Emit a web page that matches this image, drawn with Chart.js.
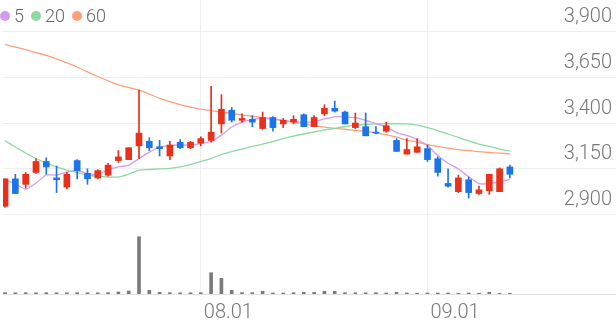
<!DOCTYPE html>
<html>
<head>
<meta charset="utf-8">
<script src="https://cdn.jsdelivr.net/npm/chart.js@4.4.0/dist/chart.umd.min.js"></script>
<style>
  html, body { margin: 0; padding: 0; background: #fff; }
  #wrap { position: relative; width: 616px; height: 321px; }
  #legend {
    position: absolute; left: 0; top: 5px;
    display: flex; align-items: center;
    font: 300 18px Roboto, sans-serif; color: #666;
  }
  #legend .item { display: flex; align-items: center; margin-right: 7px; }
  #legend .dot { width: 10px; height: 10px; border-radius: 50%; margin-right: 4px; }
</style>
</head>
<body>
<div id="wrap">
  <canvas id="chart" width="616" height="321"></canvas>
  <div id="legend"></div>
</div>
<script>
// trading days shown on the chart
const dates = [
  '07.05','07.06','07.07','07.10','07.11','07.12','07.13','07.14','07.17','07.18',
  '07.19','07.20','07.21','07.24','07.25','07.26','07.27','07.28','07.31','08.01',
  '08.02','08.03','08.04','08.07','08.08','08.09','08.10','08.11','08.14','08.16',
  '08.17','08.18','08.21','08.22','08.23','08.24','08.25','08.28','08.29','08.30',
  '08.31','09.01','09.04','09.05','09.06','09.07','09.08','09.11','09.12','09.13'
];

const open = [
  2945,3095,3065,3130,3190,3100,3050,3195,3125,3100,
  3115,3195,3200,3275,3300,3270,3220,3295,3265,3290,
  3305,3395,3470,3415,3420,3370,3430,3395,3405,3445,
  3380,3450,3480,3460,3375,3380,3350,3355,3305,3230,
  3240,3260,3205,3070,3025,3090,3015,3030,3025,3160
];
const high = [
  3095,3120,3130,3205,3210,3165,3130,3200,3150,3145,
  3180,3250,3265,3580,3320,3305,3300,3310,3300,3325,
  3600,3555,3485,3450,3440,3460,3435,3425,3440,3450,
  3440,3500,3520,3465,3455,3455,3380,3405,3315,3315,
  3315,3280,3215,3150,3115,3105,3055,3120,3155,3170
];
const low = [
  2940,3015,3045,3125,3120,3020,3040,3095,3065,3095,
  3110,3185,3200,3205,3250,3220,3200,3260,3260,3275,
  3295,3345,3405,3405,3380,3365,3355,3375,3395,3380,
  3380,3440,3460,3395,3370,3330,3340,3350,3245,3230,
  3240,3190,3110,3050,3020,2990,3010,3010,3025,3100
];
const close = [
  3095,3015,3120,3190,3160,3090,3120,3140,3095,3140,
  3170,3215,3265,3345,3265,3260,3280,3265,3295,3315,
  3350,3475,3415,3425,3405,3430,3375,3415,3420,3380,
  3430,3480,3465,3395,3400,3330,3345,3385,3245,3255,
  3270,3200,3130,3055,3100,3020,3035,3120,3150,3120
];
const volume = [
  70000,60000,65000,60000,65000,60000,60000,65000,60000,60000,
  65000,100000,150000,2865000,185000,85000,65000,60000,60000,65000,
  1065000,785000,185000,70000,65000,140000,50000,50000,65000,85000,
  80000,135000,135000,65000,65000,60000,65000,50000,85000,50000,
  40000,50000,50000,50000,40000,50000,40000,85000,35000,35000
];

// moving averages as drawn on the chart
const ma5 = [
  3089,3067,3039,3072,3116,3116,3132,3140,3124,3121,
  3143,3160,3170,3206,3241,3269,3277,3280,3280,3288,
  3299,3334,3378,3405,3419,3425,3422,3414,3408,3405,
  3408,3422,3434,3434,3429,3414,3397,3378,3348,3332,
  3310,3277,3222,3180,3149,3107,3069,3069,3080,3091
];
const ma20 = [
  3303,3269,3236,3206,3181,3160,3143,3130,3116,3108,
  3105,3105,3121,3143,3146,3149,3152,3160,3173,3190,
  3206,3228,3244,3258,3272,3285,3299,3315,3329,3340,
  3351,3362,3371,3381,3387,3392,3395,3396,3396,3395,
  3389,3375,3359,3340,3321,3302,3285,3272,3258,3247
];
const ma60 = [
  3829,3815,3801,3785,3769,3750,3728,3706,3679,3654,
  3630,3608,3594,3580,3558,3535,3517,3501,3487,3476,
  3468,3460,3452,3444,3437,3430,3422,3414,3405,3396,
  3386,3378,3371,3366,3360,3354,3346,3337,3323,3307,
  3296,3282,3272,3263,3255,3250,3244,3239,3235,3232
];

const maNames = ['5', '20', '60'];
const priceTicks = [2900, 3150, 3400, 3650, 3900];
const dateTicks = ['08.01', '09.01'];

const UP = '#e8301a';
const DOWN = '#1b74e8';
const maColors = ['#d59bf0', '#8fd9a2', '#ffa07c'];
const candleColors = close.map((c, i) => (c >= open[i] ? UP : DOWN));

const xy = (arr) => arr.map((v, i) => ({ x: i, y: v }));
const labelFont = { family: 'Roboto', size: 20, weight: 300 };

// html legend for the moving averages
const legend = document.getElementById('legend');
maNames.forEach((name, k) => {
  const item = document.createElement('div');
  item.className = 'item';
  item.innerHTML = '<span class="dot" style="background:' + maColors[k] + '"></span><span>' + name + '</span>';
  legend.appendChild(item);
});

const maLine = (data, k) => ({
  type: 'line',
  data: xy(data),
  borderColor: maColors[k],
  borderWidth: 1.3,
  pointRadius: 0,
  tension: 0.2,
  yAxisID: 'y',
  order: 2
});

new Chart(document.getElementById('chart'), {
  data: {
    datasets: [
      {
        type: 'bar',
        data: dates.map((d, i) => ({ x: i, y: [open[i], close[i]] })),
        backgroundColor: candleColors,
        barThickness: 6,
        minBarLength: 1,
        grouped: false,
        yAxisID: 'y',
        order: 0
      },
      {
        type: 'bar',
        data: dates.map((d, i) => ({ x: i, y: [low[i], high[i]] })),
        backgroundColor: candleColors,
        barThickness: 1,
        grouped: false,
        yAxisID: 'y',
        order: 1
      },
      maLine(ma5, 0),
      maLine(ma20, 1),
      maLine(ma60, 2),
      {
        type: 'bar',
        data: xy(volume),
        backgroundColor: '#7b7b7b',
        barThickness: 3,
        grouped: false,
        yAxisID: 'vol',
        order: 3
      }
    ]
  },
  options: {
    responsive: false,
    animation: false,
    layout: { padding: { left: 3, right: 0, top: 0, bottom: 0 } },
    plugins: { legend: { display: false }, tooltip: { enabled: false } },
    scales: {
      x: {
        type: 'linear',
        offset: false,
        min: -0.2,
        max: 59.3,
        afterBuildTicks: (axis) => {
          axis.ticks = dateTicks.map((d) => ({ value: dates.indexOf(d) }));
        },
        afterFit: (axis) => {
          axis.height = 27;
        },
        ticks: {
          callback: (v) => dates[v],
          align: 'start',
          padding: 7,
          labelOffset: 3,
          color: '#777',
          font: labelFont,
          maxRotation: 0
        },
        grid: { color: '#efefef', drawTicks: false, offset: false },
        border: { display: true, color: '#e3e3e3' }
      },
      y: {
        type: 'linear',
        position: 'right',
        min: 2466,
        max: 4072,
        afterBuildTicks: (axis) => {
          axis.ticks = priceTicks.map((v) => ({ value: v }));
        },
        afterFit: (axis) => {
          // labels sit inside the plot, no extra room needed above or below
          axis.paddingTop = 0;
          axis.paddingBottom = 0;
        },
        ticks: {
          callback: (v) => v.toLocaleString('en-US'),
          mirror: true,
          padding: -4,
          labelOffset: -14.5,
          color: '#777',
          font: labelFont
        },
        grid: { color: '#eeeeee', drawTicks: false },
        border: { display: false }
      },
      vol: {
        type: 'linear',
        display: false,
        min: 0,
        max: 14700000
      }
    }
  }
});
</script>
</body>
</html>
